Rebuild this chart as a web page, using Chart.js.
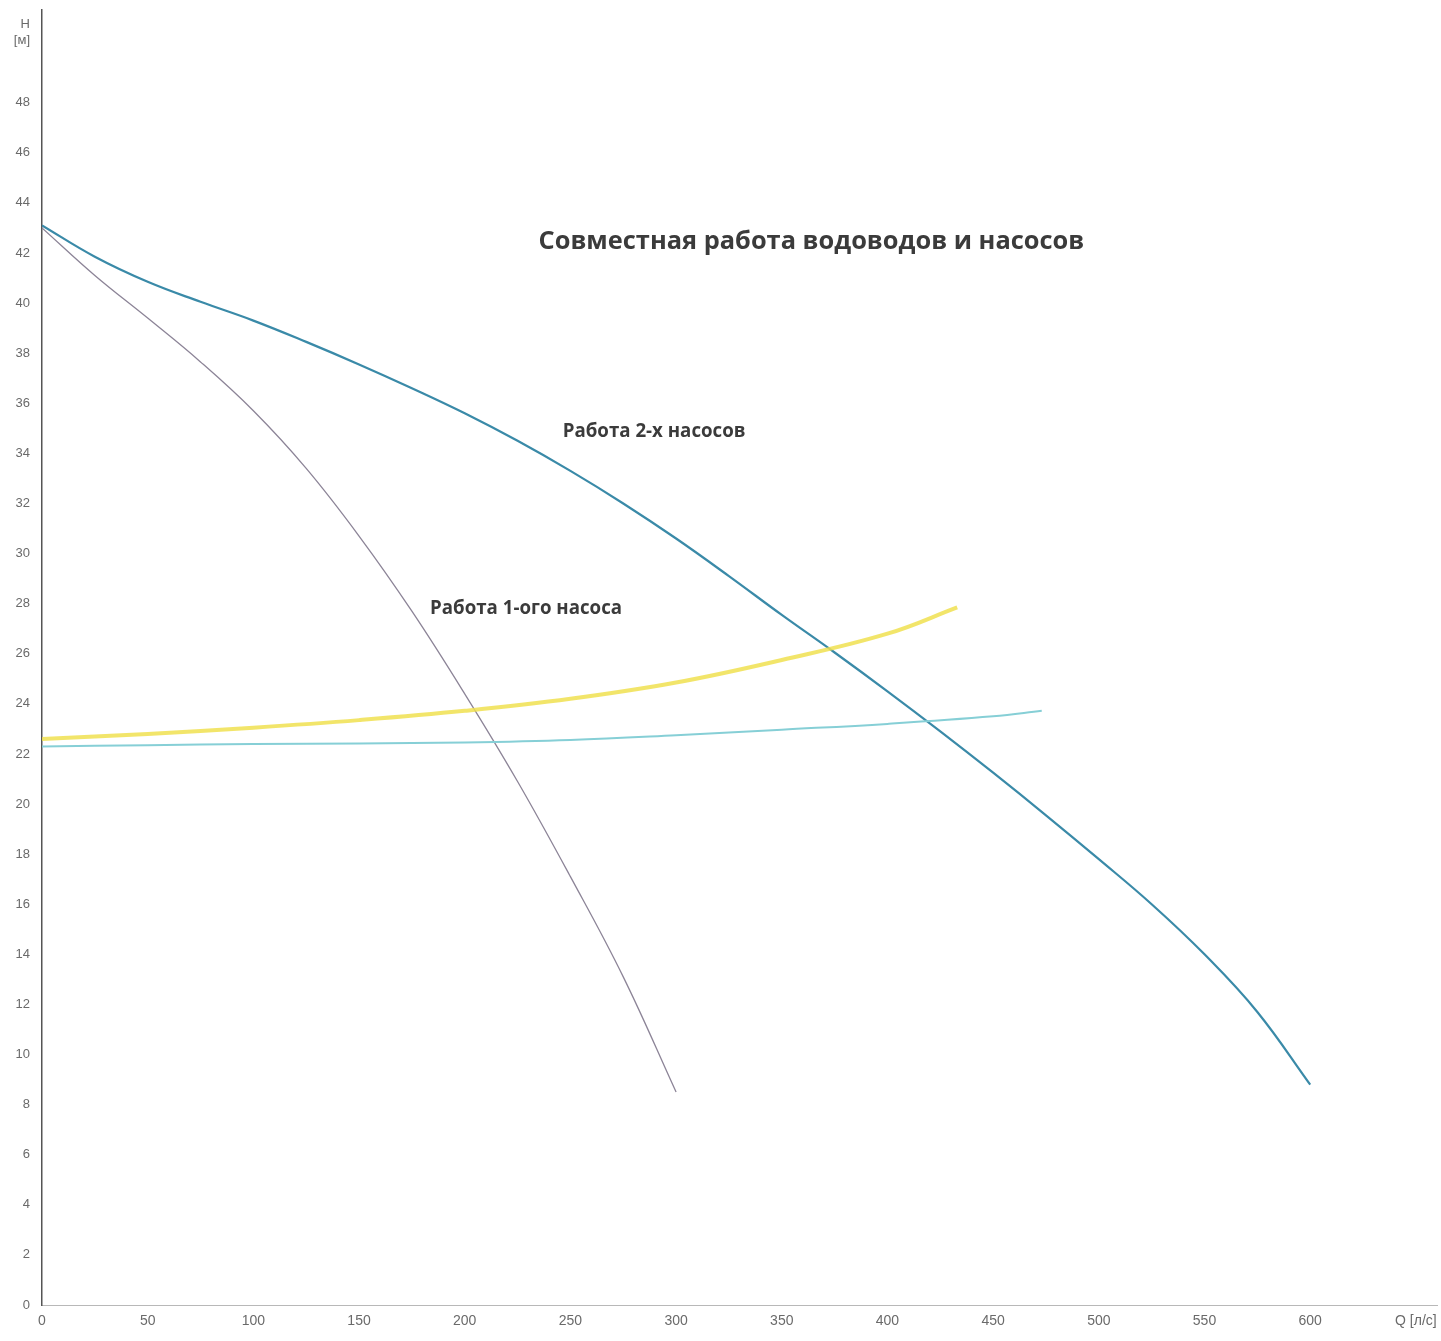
<!DOCTYPE html>
<html>
<head>
<meta charset="utf-8">
<style>
  html, body { margin: 0; padding: 0; background: #ffffff; }
  #wrap { width: 1441px; height: 1341px; }
</style>
<script src="https://cdn.jsdelivr.net/npm/chart.js@4/dist/chart.umd.min.js"></script>
</head>
<body>
<div id="wrap"><canvas id="c" width="1441" height="1341"></canvas></div>
<script>
// ---- data ----
const xTicks = [0, 50, 100, 150, 200, 250, 300, 350, 400, 450, 500, 550, 600, 650];
const xAxisLabel = "Q [л/с]";
const yTicks = [0, 2, 4, 6, 8, 10, 12, 14, 16, 18, 20, 22, 24, 26, 28, 30, 32, 34, 36, 38, 40, 42, 44, 46, 48, 50.8];
const yAxisLabel = ["H", "[м]"];

// Работа 2-х насосов
const twoPumpsQ = [0, 25, 50, 75, 100, 125, 150, 175, 200, 225, 250, 275, 300, 325, 350, 375, 400, 425, 450, 475, 500, 525, 550, 575, 600];
const twoPumpsH = [43.1, 41.85, 40.85, 40.05, 39.3, 38.45, 37.55, 36.6, 35.6, 34.5, 33.3, 32.0, 30.6, 29.1, 27.55, 26.05, 24.5, 22.9, 21.25, 19.55, 17.8, 16.0, 14.0, 11.7, 8.8];

// Работа 1-ого насоса
const onePumpQ = [0, 25, 50, 75, 100, 125, 150, 175, 200, 225, 250, 275, 300];
const onePumpH = [43.0, 41.1, 39.4, 37.65, 35.7, 33.4, 30.7, 27.7, 24.4, 20.9, 17.1, 13.1, 8.5];

// водовод (жёлтый)
const pipeAQ = [0, 50, 100, 150, 200, 250, 300, 350, 400, 433];
const pipeAH = [22.6, 22.8, 23.05, 23.35, 23.72, 24.2, 24.85, 25.75, 26.8, 27.85];

// водовод (голубой)
const pipeBQ = [0, 50, 100, 150, 200, 250, 300, 350, 400, 450, 473];
const pipeBH = [22.3, 22.35, 22.4, 22.42, 22.46, 22.56, 22.75, 22.97, 23.2, 23.5, 23.72];

const titleText = "Совместная работа водоводов и насосов";
const label2 = "Работа 2-х насосов";
const label1 = "Работа 1-ого насоса";
// anchor positions of the texts in data units (Q, H)
const titlePos = [364, 42.45];
const label2Pos = [289.6, 34.86];
const label1Pos = [229, 27.8];

function pts(qs, hs) { return qs.map((q, i) => ({ x: q, y: hs[i] })); }

const textPlugin = {
  id: 'texts',
  afterDatasetsDraw(chart) {
    const { ctx, scales: { x, y } } = chart;
    ctx.save();
    ctx.fillStyle = '#3b3b3b';
    ctx.textAlign = 'center';
    ctx.textBaseline = 'middle';
    ctx.font = 'bold 25.4px "Open Sans"';
    ctx.fillText(titleText, x.getPixelForValue(titlePos[0]), y.getPixelForValue(titlePos[1]));
    ctx.font = 'bold 18.7px "Open Sans"';
    ctx.fillText(label2, x.getPixelForValue(label2Pos[0]), y.getPixelForValue(label2Pos[1]));
    ctx.fillText(label1, x.getPixelForValue(label1Pos[0]), y.getPixelForValue(label1Pos[1]));
    ctx.restore();
  }
};

const lineCommon = { showLine: true, pointRadius: 0, tension: 0.4 };

new Chart(document.getElementById('c'), {
  type: 'scatter',
  data: {
    datasets: [
      Object.assign({ label: 'pipeA', data: pts(pipeAQ, pipeAH), borderColor: 'rgba(240,225,80,0.85)', borderWidth: 4 }, lineCommon),
      Object.assign({ label: 'pipeB', data: pts(pipeBQ, pipeBH), borderColor: '#86cfd6', borderWidth: 2 }, lineCommon),
      Object.assign({ label: 'one', data: pts(onePumpQ, onePumpH), borderColor: '#8c8497', borderWidth: 1.3 }, lineCommon),
      Object.assign({ label: 'two', data: pts(twoPumpsQ, twoPumpsH), borderColor: '#3a8aa8', borderWidth: 2.2 }, lineCommon)
    ]
  },
  options: {
    responsive: false,
    animation: false,
    devicePixelRatio: 1,
    layout: { padding: { top: 10, right: 4, left: 0, bottom: 0 } },
    plugins: { legend: { display: false }, tooltip: { enabled: false }, title: { display: false } },
    scales: {
      x: {
        type: 'linear', min: 0, max: 660,
        afterBuildTicks: (s) => { s.ticks = xTicks.map(v => ({ value: v })); },
        afterFit: (s) => { s.height = 36; },
        grid: { display: false, drawTicks: true, tickLength: 4, tickColor: '#999' },
        border: { display: true, color: '#b8b8b8', width: 1, dash: [2, 2] },
        ticks: {
          autoSkip: false, maxRotation: 0, minRotation: 0, padding: 4,
          color: '#6a6a6a', font: { family: 'Liberation Sans', size: 14 },
          callback: (v) => v === 650 ? xAxisLabel : String(v)
        }
      },
      y: {
        type: 'linear', min: 0, max: 51.7,
        afterBuildTicks: (s) => { s.ticks = yTicks.map(v => ({ value: v })); },
        afterFit: (s) => { s.width = 42; s.paddingTop = 0; },
        grid: { display: false, drawTicks: true, tickLength: 4, tickColor: '#888' },
        border: { display: true, color: '#555', width: 1.5 },
        ticks: {
          autoSkip: false, padding: 8,
          color: '#6a6a6a', font: { family: 'Liberation Sans', size: 13 },
          callback: (v) => v > 50 ? yAxisLabel : String(v)
        }
      }
    }
  },
  plugins: [textPlugin]
});
</script>
</body>
</html>
